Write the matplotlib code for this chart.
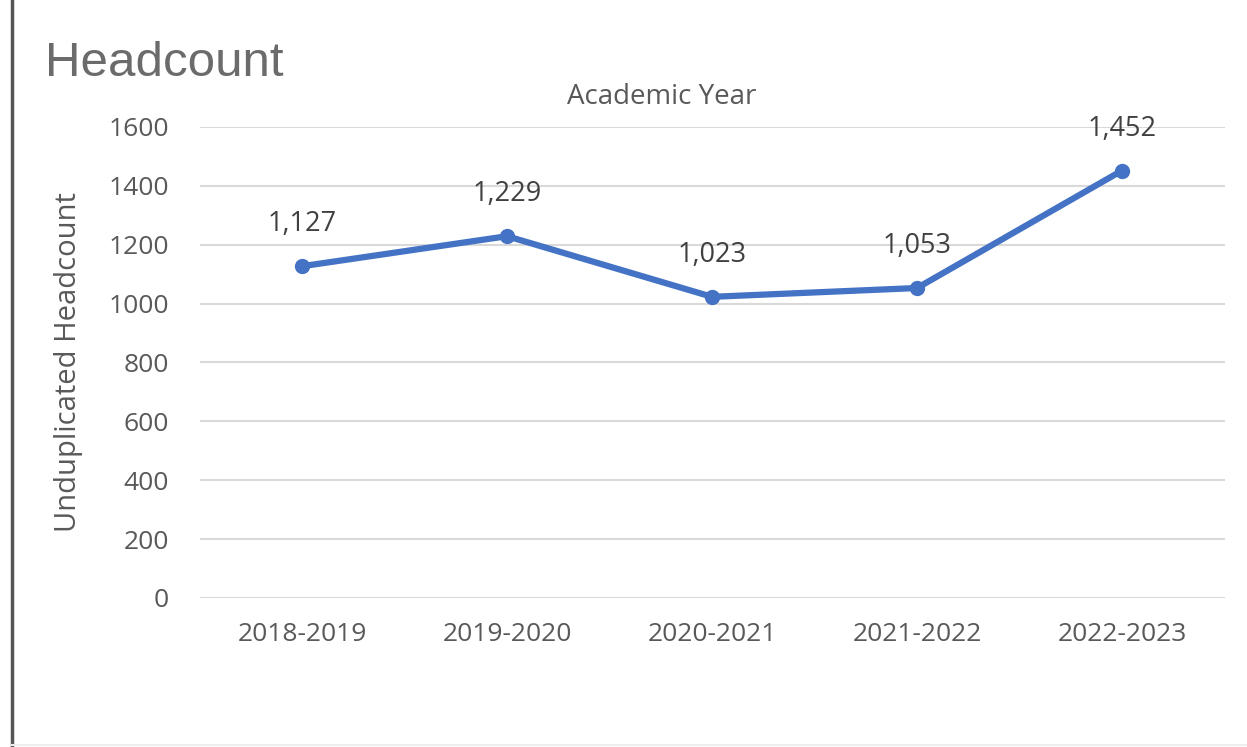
import matplotlib.pyplot as plt
from matplotlib.lines import Line2D

years = ['2018-2019', '2019-2020', '2020-2021', '2021-2022', '2022-2023']
headcount = [1127, 1229, 1023, 1053, 1452]
y_ticks = [0, 200, 400, 600, 800, 1000, 1200, 1400, 1600]

blue = '#4472C4'
grey = '#595959'

plt.rcParams['font.family'] = ['Open Sans', 'DejaVu Sans']

fig = plt.figure(figsize=(12.47, 7.47), dpi=100)
ax = fig.add_axes([0.160, 0.1995, 0.822, 0.6305])

x = range(len(years))
ax.plot(x, headcount, color=blue, lw=4.5, marker='o', ms=10,
        solid_capstyle='round', zorder=3)
for i, v in zip(x, headcount):
    ax.annotate('{:,}'.format(v), (i, v), xytext=(0, 20), textcoords='offset points',
                ha='center', va='bottom', fontsize=19.5, color='#404040')

ax.set_xlim(-0.5, len(years) - 0.5)
ax.set_ylim(0, 1600)
ax.set_yticks(y_ticks)
ax.set_xticks(list(x))
ax.set_xticklabels(years)
ax.tick_params(axis='both', length=0, labelsize=19, labelcolor=grey)
ax.tick_params(axis='y', pad=22)
ax.tick_params(axis='x', pad=17)
ax.grid(axis='y', color='#d9d9d9', lw=1.5)
ax.set_axisbelow(True)
for s in ax.spines.values():
    s.set_visible(False)

ax.set_ylabel('Unduplicated Headcount', fontsize=21, color=grey, labelpad=18)

fig.text(0.531, 0.87, 'Academic Year', ha='center', va='center',
         fontsize=20, color=grey)
fig.text(0.036, 0.915, 'Headcount', ha='left', va='center',
         fontsize=35.5, color='#6b6b6b', family='Liberation Sans')

# frame edges from the screenshot
fig.add_artist(Line2D([0.0096, 0.0096], [0.0, 1.0], color='#555555', lw=2.5))
fig.add_artist(Line2D([0.0096, 1.0], [0.003, 0.003], color='#eeeeee', lw=1.5))

fig.savefig('out.png', dpi=100)
